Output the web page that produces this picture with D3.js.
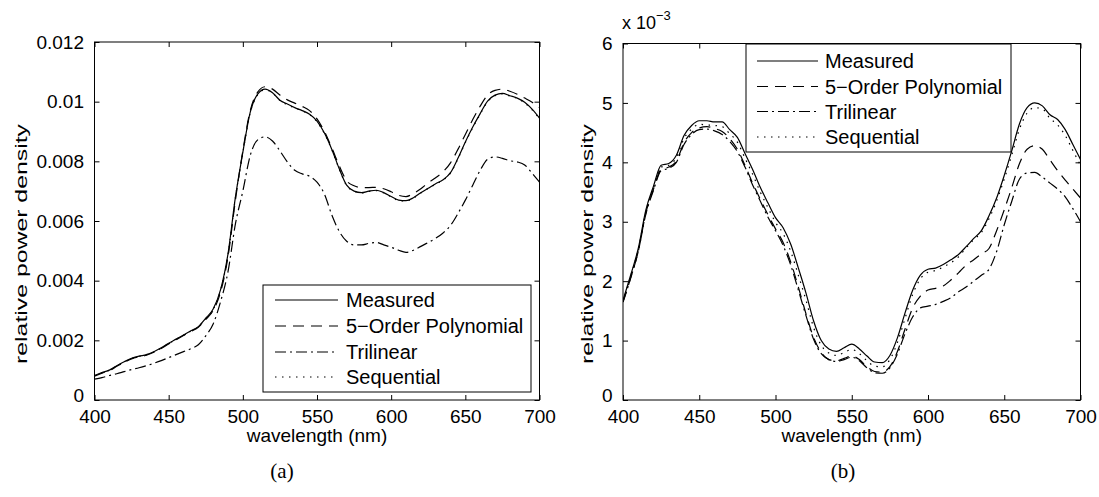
<!DOCTYPE html>
<html><head><meta charset="utf-8">
<script src="https://cdn.jsdelivr.net/npm/d3@7"></script>
<style>body{margin:0;background:#fff}svg{display:block}</style>
</head><body>
<svg id="c" width="1099" height="497"></svg>
<script>
// ---------- data ----------
const wavelengths = [400,405,410,415,420,425,430,435,440,445,450,455,460,465,470,475,480,485,490,495,
  500,505,510,515,520,525,530,535,540,545,550,555,560,565,570,575,580,585,590,595,
  600,605,610,615,620,625,630,635,640,645,650,655,660,665,670,675,680,685,690,695,700];

const seriesNames = ["Measured","5\u2212Order Polynomial","Trilinear","Sequential"];
const xTicks = [400,450,500,550,600,650,700];
const aYTicks = [0,0.002,0.004,0.006,0.008,0.01,0.012];
const aYTickLabels = ["0","0.002","0.004","0.006","0.008","0.01","0.012"];
const bYTicks = [0,1,2,3,4,5,6];
const bYTickLabels = ["0","1","2","3","4","5","6"];

// panel (a), values in units of 1e-3
const aMeasured = [0.82,0.92,1.0,1.15,1.28,1.4,1.47,1.52,1.62,1.75,
 1.9,2.04,2.18,2.32,2.46,2.74,3.05,3.7,4.9,6.8,
 8.3,9.65,10.25,10.42,10.3,10.05,9.92,9.8,9.7,9.58,
 9.35,8.95,8.4,7.75,7.2,7.0,6.95,7.0,7.03,6.95,
 6.82,6.7,6.68,6.78,6.95,7.1,7.25,7.38,7.62,8.1,
 8.65,9.15,9.6,10.02,10.22,10.28,10.2,10.12,9.98,9.75,
 9.45];
const aPoly = [0.8,0.9,0.98,1.13,1.26,1.38,1.45,1.5,1.6,1.73,
 1.88,2.02,2.16,2.3,2.44,2.7,3.0,3.62,4.8,6.7,
 8.35,9.7,10.32,10.5,10.42,10.22,10.06,9.95,9.84,9.7,
 9.42,9.0,8.45,7.85,7.35,7.18,7.12,7.12,7.13,7.08,
 6.98,6.86,6.82,6.92,7.08,7.28,7.45,7.65,7.95,8.4,
 8.9,9.4,9.85,10.22,10.38,10.42,10.35,10.25,10.12,9.98,
 9.8];
const aTri = [0.7,0.75,0.82,0.88,0.95,1.02,1.08,1.15,1.23,1.32,
 1.42,1.52,1.62,1.72,1.85,2.15,2.55,3.3,4.3,5.9,
 7.0,8.2,8.72,8.82,8.68,8.35,7.98,7.7,7.58,7.5,
 7.3,6.9,6.2,5.65,5.32,5.2,5.2,5.25,5.28,5.2,
 5.12,5.02,4.95,5.02,5.15,5.28,5.42,5.6,5.85,6.25,
 6.7,7.2,7.7,8.07,8.15,8.1,8.02,7.98,7.88,7.6,
 7.3];
const aSeq = [0.81,0.91,1.0,1.14,1.27,1.39,1.46,1.52,1.61,1.74,
 1.89,2.03,2.17,2.31,2.45,2.72,3.03,3.68,4.87,6.78,
 8.28,9.63,10.23,10.4,10.29,10.04,9.9,9.79,9.69,9.57,
 9.33,8.93,8.39,7.74,7.19,7.0,6.94,6.99,7.02,6.94,
 6.81,6.69,6.67,6.77,6.94,7.09,7.24,7.37,7.61,8.08,
 8.63,9.13,9.58,10.0,10.2,10.26,10.19,10.11,9.96,9.73,
 9.43];

// panel (b), values in units of 1e-3
const bMeasured = [1.68,2.1,2.55,3.2,3.6,3.95,3.98,4.12,4.45,4.62,
 4.7,4.7,4.68,4.68,4.55,4.42,4.15,3.88,3.58,3.32,
 3.07,2.9,2.62,2.22,1.8,1.33,1.0,0.86,0.82,0.88,
 0.94,0.86,0.74,0.64,0.63,0.75,1.05,1.47,1.85,2.1,
 2.2,2.22,2.28,2.36,2.45,2.58,2.72,2.85,3.1,3.4,
 3.78,4.2,4.65,4.92,5.0,4.95,4.8,4.72,4.55,4.3,
 4.05];
const bPoly = [1.65,2.05,2.5,3.15,3.55,3.88,3.92,4.02,4.33,4.5,
 4.58,4.6,4.57,4.52,4.4,4.22,3.95,3.65,3.38,3.12,
 2.88,2.65,2.32,1.9,1.45,1.05,0.8,0.68,0.66,0.7,
 0.74,0.68,0.56,0.48,0.47,0.56,0.82,1.2,1.55,1.75,
 1.85,1.88,1.92,2.02,2.14,2.27,2.36,2.46,2.55,2.85,
 3.2,3.58,3.98,4.22,4.28,4.22,4.04,3.86,3.7,3.55,
 3.4];
const bTri = [1.65,2.05,2.5,3.13,3.53,3.86,3.9,4.0,4.3,4.47,
 4.55,4.56,4.53,4.47,4.35,4.18,3.92,3.62,3.35,3.08,
 2.85,2.6,2.27,1.85,1.42,1.02,0.78,0.68,0.65,0.68,
 0.72,0.66,0.54,0.46,0.45,0.54,0.78,1.12,1.4,1.55,
 1.58,1.61,1.66,1.72,1.82,1.9,2.0,2.1,2.2,2.5,
 2.95,3.35,3.72,3.82,3.83,3.75,3.65,3.55,3.42,3.22,
 3.0];
const bSeq = [1.66,2.08,2.53,3.17,3.57,3.92,3.95,4.08,4.4,4.56,
 4.64,4.63,4.62,4.6,4.48,4.34,4.07,3.8,3.5,3.24,
 2.99,2.8,2.5,2.1,1.68,1.22,0.92,0.79,0.75,0.8,
 0.85,0.78,0.66,0.57,0.56,0.68,0.97,1.38,1.78,2.04,
 2.15,2.18,2.24,2.31,2.41,2.56,2.7,2.82,3.05,3.35,
 3.72,4.13,4.56,4.83,4.92,4.9,4.74,4.63,4.45,4.2,
 3.95];

// ---------- drawing ----------
const svg = d3.select("#c");
const FONT = "'Liberation Sans', Arial, Helvetica, sans-serif";
const dashes = [null, "11,7", "11,4,2,4", "1.5,5.5"];

function panel(cfg) {
  const x = d3.scaleLinear().domain([400,700]).range([cfg.x0, cfg.x1]);
  const y = d3.scaleLinear().domain(cfg.yDomain).range([cfg.y1, cfg.y0]);
  const g = svg.append("g");

  const styleAxis = sel => {
    sel.select(".domain").remove();
    sel.selectAll("line").attr("stroke","#000").attr("stroke-width",1);
    sel.attr("font-family", FONT).attr("font-size", 19);
    sel.selectAll("text").attr("fill","#000");
  };
  g.append("g").attr("transform",`translate(0,${cfg.y1})`)
    .call(d3.axisBottom(x).tickValues(xTicks).tickSize(-5).tickSizeOuter(0).tickPadding(9.5).tickFormat(d3.format("d")))
    .call(styleAxis);
  g.append("g").attr("transform",`translate(0,${cfg.y0})`)
    .call(d3.axisTop(x).tickValues(xTicks).tickSize(-5).tickSizeOuter(0).tickFormat(""))
    .call(styleAxis);
  const yl = g.append("g").attr("transform",`translate(${cfg.x0},0)`)
    .call(d3.axisLeft(y).tickValues(cfg.yTicks).tickSize(-5).tickSizeOuter(0).tickPadding(10.5)
      .tickFormat((d,i) => cfg.yTickLabels[i]))
    .call(styleAxis);
  // MATLAB places the bottom "0" a touch higher, clear of the x tick labels
  yl.selectAll(".tick text").filter(d => d === 0).attr("dy","0.1em");
  g.append("g").attr("transform",`translate(${cfg.x1},0)`)
    .call(d3.axisRight(y).tickValues(cfg.yTicks).tickSize(-5).tickSizeOuter(0).tickFormat(""))
    .call(styleAxis);

  const clipId = "clip" + cfg.id;
  svg.append("clipPath").attr("id", clipId).append("rect")
    .attr("x", cfg.x0).attr("y", cfg.y0).attr("width", cfg.x1-cfg.x0).attr("height", cfg.y1-cfg.y0);

  const line = d3.line().x((d,i) => x(wavelengths[i])).y(d => y(d * cfg.unit)).curve(d3.curveMonotoneX);
  const lg = g.append("g").attr("clip-path", `url(#${clipId})`);
  cfg.series.forEach((s, k) => {
    lg.append("path").datum(s).attr("d", line)
      .attr("fill","none").attr("stroke","#000").attr("stroke-width",1.2)
      .attr("stroke-dasharray", dashes[k]);
  });

  g.append("rect").attr("x",cfg.x0).attr("y",cfg.y0).attr("width",cfg.x1-cfg.x0).attr("height",cfg.y1-cfg.y0)
    .attr("fill","none").attr("stroke","#000").attr("stroke-width",1);

  // legend
  const L = cfg.legend;
  const leg = g.append("g");
  leg.append("rect").attr("x",L.x).attr("y",L.y).attr("width",L.w).attr("height",L.h)
    .attr("fill","#fff").attr("stroke","#000").attr("stroke-width",1);
  seriesNames.forEach((name, k) => {
    const yy = L.rows[k];
    leg.append("line").attr("x1",L.sx0).attr("x2",L.sx1).attr("y1",yy).attr("y2",yy)
      .attr("stroke","#000").attr("stroke-width",1.2).attr("stroke-dasharray", dashes[k]);
    leg.append("text").attr("x",L.tx).attr("y",yy).attr("dy","0.36em")
      .attr("font-family",FONT).attr("font-size",20).attr("fill","#000").text(name);
  });

  // axis labels
  g.append("text").attr("x",(cfg.x0+cfg.x1)/2).attr("y",442).attr("text-anchor","middle")
    .attr("font-family",FONT).attr("font-size",19).attr("fill","#000").text("wavelength (nm)");
  g.append("text").attr("transform",`translate(${cfg.ylabX},244) rotate(-90)`)
    .attr("text-anchor","middle").attr("dy","0.35em")
    .attr("font-family",FONT).attr("font-size",17).attr("fill","#000")
    .attr("textLength",240).attr("lengthAdjust","spacingAndGlyphs")
    .text("relative power density");
  g.append("text").attr("x",cfg.capX).attr("y",478).attr("text-anchor","middle")
    .attr("font-family","'Liberation Serif','DejaVu Serif',serif").attr("font-size",21).attr("fill","#000")
    .text(cfg.caption);
  return g;
}

panel({
  id:"a", x0:94.5, x1:539.5, y0:42, y1:400, yDomain:[0,0.012], unit:0.001,
  yTicks:aYTicks, yTickLabels:aYTickLabels,
  series:[aMeasured, aPoly, aTri, aSeq],
  legend:{x:263, y:285, w:268, h:107, rows:[300,326,352,377], sx0:275, sx1:338, tx:346},
  ylabX:21, capX:282, caption:"(a)"
});

panel({
  id:"b", x0:623, x1:1080.5, y0:43.5, y1:400, yDomain:[0,6], unit:1,
  yTicks:bYTicks, yTickLabels:bYTickLabels,
  series:[bMeasured, bPoly, bTri, bSeq],
  legend:{x:746, y:44, w:265, h:108, rows:[61,86.5,111.5,137], sx0:757, sx1:818, tx:825},
  ylabX:587, capX:843, caption:"(b)"
});

// exponent label
const ex = svg.append("text").attr("x",622).attr("y",29)
  .attr("font-family",FONT).attr("font-size",18).attr("fill","#000");
ex.append("tspan").text("x 10");
ex.append("tspan").attr("font-size",13).attr("dy",-9).text("\u22123");
</script>
</body></html>
